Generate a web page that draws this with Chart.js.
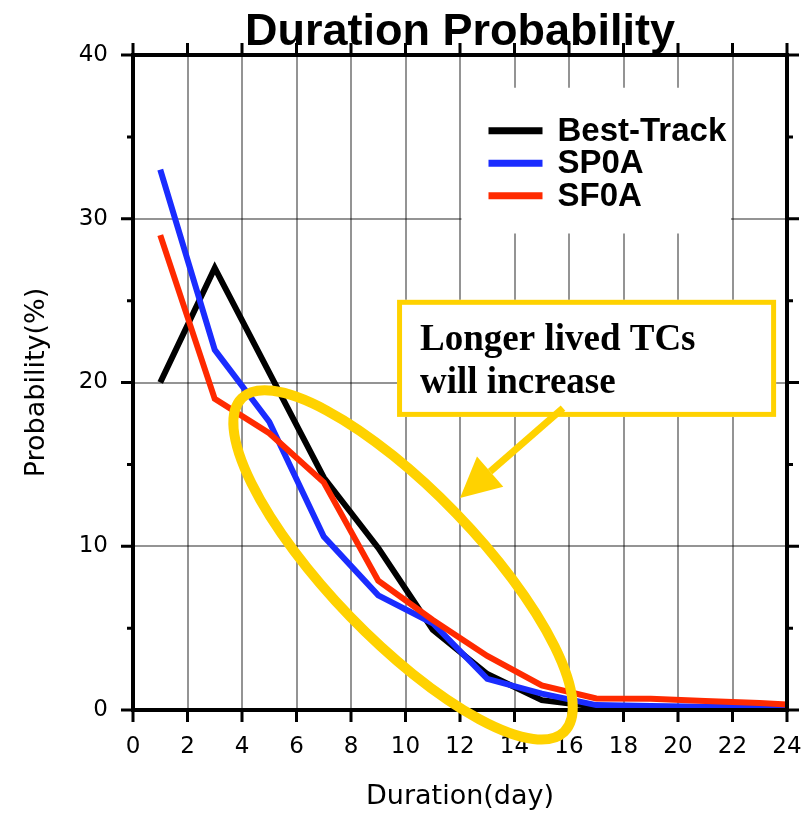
<!DOCTYPE html>
<html>
<head>
<meta charset="utf-8">
<script src="https://cdn.jsdelivr.net/npm/chart.js@4.4.1/dist/chart.umd.min.js"></script>
<style>
  html, body { margin: 0; padding: 0; background: #fff; }
</style>
</head>
<body>
<canvas id="durationChart" width="806" height="817"></canvas>
<script>
// values (odd days, last point is clipped by the frame)
var days      = [1, 3, 5, 7, 9, 11, 13, 15, 17, 19, 21, 23, 25];
var bestTrack = [20, 27, 20.6, 14.2, 9.9, 4.9, 2.2, 0.6, 0.2, 0.1, 0.1, 0.1, 0.1];
var sp0a      = [33, 22, 17.6, 10.6, 7.0, 5.3, 1.9, 1.0, 0.3, 0.25, 0.2, 0.2, 0.15];
var sf0a      = [29, 19, 16.9, 13.9, 7.9, 5.5, 3.3, 1.5, 0.7, 0.68, 0.55, 0.42, 0.25];

var seriesNames = ['Best-Track', 'SP0A', 'SF0A'];
var xTicks = [0, 2, 4, 6, 8, 10, 12, 14, 16, 18, 20, 22, 24];
var yTicks = [0, 10, 20, 30, 40];
var noteLines = ['Longer lived TCs', 'will increase'];

var YELLOW = '#ffd200';

function points(vals) {
  return days.map(function(d, i) { return {x: d, y: vals[i]}; });
}

var overlay = {
  id: 'overlay',
  afterDraw: function(chart) {
    var ctx = chart.ctx, a = chart.chartArea;
    var sx = chart.scales.x, sy = chart.scales.y;
    ctx.save();

    // ticks
    ctx.strokeStyle = '#000';
    ctx.lineWidth = 3;
    ctx.beginPath();
    xTicks.forEach(function(d) {
      var px = sx.getPixelForValue(d);
      ctx.moveTo(px, a.bottom); ctx.lineTo(px, a.bottom + 12);
      ctx.moveTo(px, a.top); ctx.lineTo(px, a.top - 12);
    });
    for (var v = 0; v <= 40; v += 5) {
      var py = sy.getPixelForValue(v);
      var len = (v % 10 === 0) ? 12 : 6;
      ctx.moveTo(a.left, py); ctx.lineTo(a.left - len, py);
      ctx.moveTo(a.right, py); ctx.lineTo(a.right + len, py);
    }
    ctx.stroke();

    // frame
    ctx.lineWidth = 4;
    ctx.strokeRect(a.left, a.top, a.right - a.left, a.bottom - a.top);

    // legend box
    var lx0 = sx.getPixelForValue(12) + 1.5, lx1 = sx.getPixelForValue(22) - 1.5;
    var ly0 = sy.getPixelForValue(38), ly1 = sy.getPixelForValue(29.1);
    ctx.fillStyle = '#fff';
    ctx.fillRect(lx0, ly0, lx1 - lx0, ly1 - ly0);
    ctx.font = 'bold 33px "Liberation Sans"';
    ctx.textBaseline = 'middle';
    ctx.textAlign = 'left';
    chart.data.datasets.forEach(function(ds, i) {
      var yy = ly0 + 43 + i * 32.5;
      ctx.strokeStyle = ds.borderColor;
      ctx.lineWidth = 7;
      ctx.beginPath();
      ctx.moveTo(lx0 + 27, yy); ctx.lineTo(lx0 + 81, yy);
      ctx.stroke();
      ctx.fillStyle = '#000';
      ctx.fillText(ds.label, lx0 + 96, yy + 1);
    });

    // ellipse
    var ecx = sx.getPixelForValue(9.91), ecy = sy.getPixelForValue(8.86);
    ctx.strokeStyle = YELLOW;
    ctx.lineWidth = 10;
    ctx.beginPath();
    ctx.ellipse(ecx, ecy, 232, 74, 46 * Math.PI / 180, 0, Math.PI * 2);
    ctx.stroke();

    // note box
    var bx0 = sx.getPixelForValue(9.69), bx1 = sx.getPixelForValue(23.6);
    var by0 = sy.getPixelForValue(25.05), by1 = sy.getPixelForValue(17.9);
    ctx.fillStyle = '#fff';
    ctx.fillRect(bx0, by0, bx1 - bx0, by1 - by0);
    ctx.lineWidth = 5;
    ctx.strokeRect(bx0 + 2.5, by0 + 2.5, bx1 - bx0 - 5, by1 - by0 - 5);
    ctx.fillStyle = '#000';
    ctx.font = 'bold 37px "Liberation Serif"';
    ctx.textBaseline = 'alphabetic';
    ctx.fillText(noteLines[0], bx0 + 23, by0 + 50);
    ctx.fillText(noteLines[1], bx0 + 23, by0 + 93);

    // arrow
    var tx = sx.getPixelForValue(12.0), ty = sy.getPixelForValue(12.95);
    var fx = sx.getPixelForValue(15.78), fy = sy.getPixelForValue(18.44);
    var ang = Math.atan2(fy - ty, fx - tx);
    var hl = 40, hw = 20;
    var bxm = tx + Math.cos(ang) * hl, bym = ty + Math.sin(ang) * hl;
    ctx.strokeStyle = YELLOW;
    ctx.lineWidth = 7;
    ctx.beginPath();
    ctx.moveTo(fx, fy); ctx.lineTo(bxm, bym);
    ctx.stroke();
    ctx.fillStyle = YELLOW;
    ctx.beginPath();
    ctx.moveTo(tx, ty);
    ctx.lineTo(bxm - Math.sin(ang) * hw, bym + Math.cos(ang) * hw);
    ctx.lineTo(bxm + Math.sin(ang) * hw, bym - Math.cos(ang) * hw);
    ctx.closePath();
    ctx.fill();

    ctx.restore();
  }
};

Chart.defaults.font.family = '"DejaVu Sans"';
Chart.defaults.color = '#000';

var lineStyle = {
  borderWidth: 6, pointRadius: 0, tension: 0, fill: false,
  clip: {left: 10, top: 10, right: 0, bottom: 10}
};

new Chart(document.getElementById('durationChart'), {
  type: 'line',
  data: {
    datasets: [
      Object.assign({label: seriesNames[0], data: points(bestTrack), borderColor: '#000000', order: 3}, lineStyle),
      Object.assign({label: seriesNames[1], data: points(sp0a), borderColor: '#1a2cff', order: 2}, lineStyle),
      Object.assign({label: seriesNames[2], data: points(sf0a), borderColor: '#ff2a00', order: 1}, lineStyle)
    ]
  },
  options: {
    responsive: false,
    animation: false,
    layout: {padding: {left: 0, right: 19, top: 0, bottom: 0}},
    plugins: {
      legend: {display: false},
      tooltip: {enabled: false},
      title: {
        display: true,
        text: 'Duration Probability',
        fullSize: false,
        color: '#000',
        font: {family: '"Liberation Sans"', size: 45, weight: 'bold', lineHeight: 1.0},
        padding: {top: 10, bottom: 0}
      }
    },
    scales: {
      x: {
        type: 'linear',
        min: 0, max: 24,
        afterBuildTicks: function(s) { s.ticks = xTicks.map(function(v) { return {value: v}; }); },
        afterFit: function(s) { s.height = 107; },
        // invisible tick marks only push the labels down
        grid: {color: 'rgba(0,0,0,0.42)', lineWidth: 2, drawTicks: true, tickLength: 23, tickColor: 'rgba(0,0,0,0)'},
        border: {display: false},
        ticks: {font: {size: 23}, padding: 0, maxRotation: 0},
        title: {display: true, text: 'Duration(day)', font: {size: 27}, padding: {top: 0, bottom: 4}}
      },
      y: {
        min: 0, max: 40,
        afterBuildTicks: function(s) { s.ticks = yTicks.map(function(v) { return {value: v}; }); },
        afterFit: function(s) { s.width = 133; },
        grid: {color: 'rgba(0,0,0,0.42)', lineWidth: 2, drawTicks: false},
        border: {display: false},
        ticks: {font: {size: 23}, padding: 25},
        title: {display: true, text: 'Probability(%)', font: {size: 27}, padding: {top: 21, bottom: 0}}
      }
    }
  },
  plugins: [overlay]
});
</script>
</body>
</html>
